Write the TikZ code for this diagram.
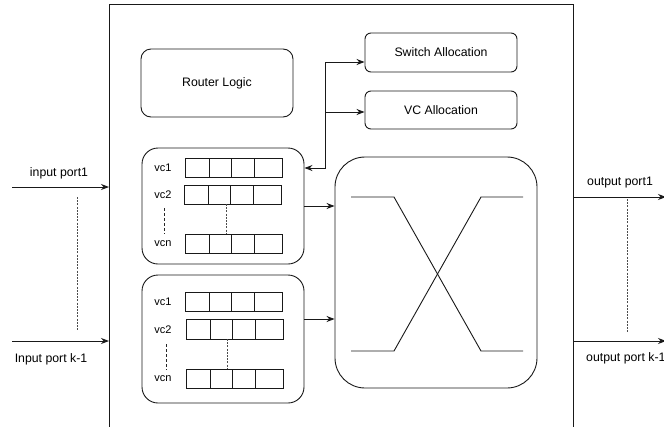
\documentclass[tikz,border=0pt]{standalone}
\usepackage{fontspec}
\setmainfont{Liberation Sans}
\usetikzlibrary{arrows.meta,calc}

\tikzset{
  line/.style={draw=black!90, line width=0.9pt},
  rbox/.style={line, rounded corners=#1},
  rbox/.default=8pt,
  label/.style={font=\fontsize{12.3}{14}\selectfont, inner sep=0pt},
  vclabel/.style={font=\fontsize{11}{13}\selectfont, inner sep=0pt},
  arr/.style={line, -{Stealth[length=8pt,width=6pt]}},
  dualarr/.style={line, {Stealth[length=8pt,width=6pt]}-{Stealth[length=8pt,width=6pt]}},
  dotline/.style={draw=black!70, line width=0.8pt, dash pattern=on 2pt off 1.2pt},
  vcdash/.style={draw=black!85, line width=0.8pt, dash pattern=on 3pt off 2pt},
  cell/.style={line},
}

% one row of a virtual-channel buffer: four cells
\newcommand{\vcrow}[3]{% #1 = left x, #2 = top y, #3 = bottom y
  \draw[cell] (#1,#2) rectangle ++(97,#3-#2);
  \foreach \dx in {24,46,69} \draw[cell] (#1+\dx,#2) -- (#1+\dx,#3);
}

\begin{document}
\begin{tikzpicture}[x=1pt,y=-1pt]
\useasboundingbox (0,0) rectangle (664,426);
\clip (0,0) rectangle (664,426);

% router outline
\draw[line] (109,440) -- (109,4) -- (573,4) -- (573,440);

% control blocks
\node[rbox=10pt, minimum width=152pt, minimum height=68pt, label] (rl) at (217,83) {Router Logic};
\node[rbox=6pt, minimum width=152pt, minimum height=39pt, label] (sa) at (441,52.5) {Switch Allocation};
\node[rbox=6pt, minimum width=152pt, minimum height=38pt, label] (vca) at (441,110) {VC Allocation};

% input buffer groups
\node[rbox=16pt, minimum width=162pt, minimum height=116pt] (b1) at (223,206) {};
\node[rbox=16pt, minimum width=162pt, minimum height=128pt] (b2) at (223,339) {};

% crossbar
\node[rbox=30pt, minimum width=202pt, minimum height=231pt] (xb) at (436,272.5) {};
\draw[line] (351,197) -- (394,197) -- (481,351) -- (523,351);
\draw[line] (351,351) -- (394,351) -- (481,197) -- (523,197);

% upper buffer group
\node[vclabel] (u1) at (163,168) {vc1};
\node[vclabel] (u2) at (163,195) {vc2};
\node[vclabel] (un) at (163,244) {vcn};
\vcrow{185}{158}{177}
\vcrow{184}{185}{204}
\vcrow{185}{234}{253}
\draw[vcdash] (164,208) -- (164,234);
\draw[dotline] (226,204) -- (226,234);

% lower buffer group
\node[vclabel] (l1) at (163,302) {vc1};
\node[vclabel] (l2) at (163,330) {vc2};
\node[vclabel] (ln) at (163,379) {vcn};
\vcrow{185}{292}{311}
\vcrow{186}{319}{339}
\vcrow{186}{369}{388}
\draw[vcdash] (166,344) -- (166,370);
\draw[dotline] (227,339) -- (227,369);

% buffers to crossbar
\draw[arr] (b1.east |- 0,206) -- (xb.west |- 0,206);
\draw[arr] (b2.east |- 0,319) -- (xb.west |- 0,319);

% allocation requests
\coordinate (bus) at (325,168);
\draw[dualarr] (b1.east |- bus) -- (bus) |- (sa.west |- 0,62);
\draw[arr] (bus |- 0,112) -- (vca.west |- 0,112);

% input ports
\coordinate (in1) at (12,187);
\coordinate (ink) at (12,341);
\draw[arr] (in1) -- (109,187);
\draw[arr] (ink) -- (109,341);
\node[label] (tin1) at (59,173) {input port1};
\node[label] (tink) at (51,359) {Input port k-1};
\draw[dotline] (77,197) -- (77,331);

% output ports
\coordinate (out1) at (666,197);
\coordinate (outk) at (666,341);
\draw[arr] (573,197) -- (out1);
\draw[arr] (573,341) -- (outk);
\node[label, anchor=west] (tout1) at (587,183) {output port1};
\node[label, anchor=west] (toutk) at (586,358) {output port k-1};
\draw[dotline] (627,199) -- (627,333);
\end{tikzpicture}
\end{document}
